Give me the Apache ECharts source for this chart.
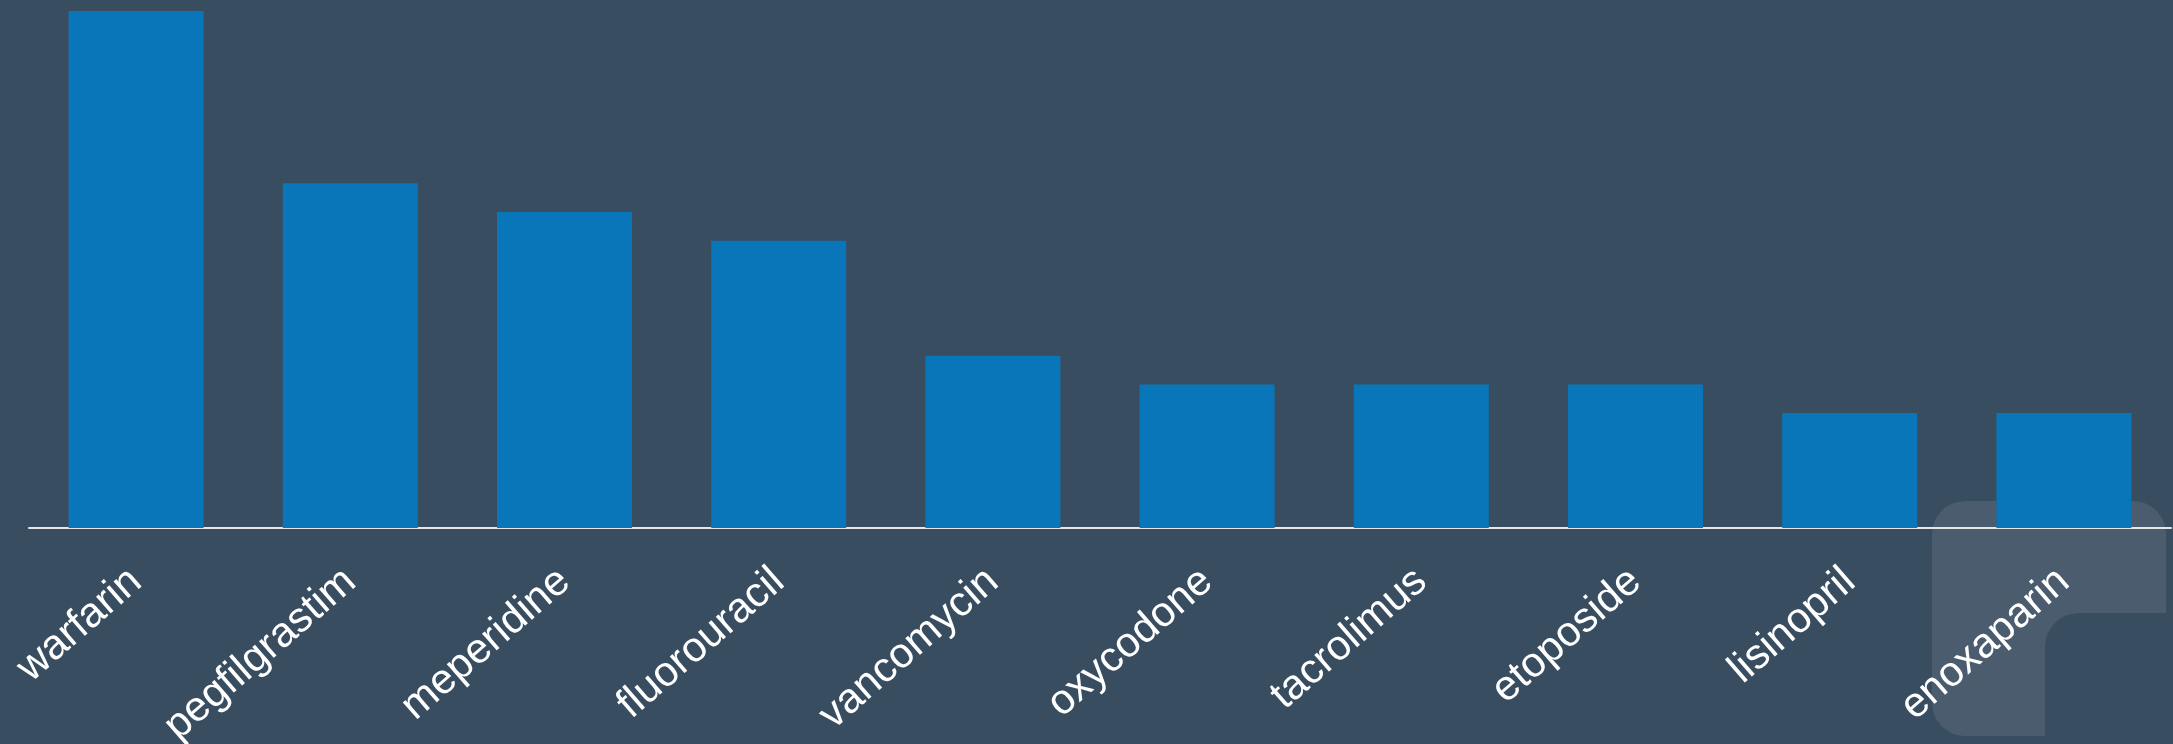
<!DOCTYPE html>
<html>
<head>
<meta charset="utf-8">
<script src="https://cdn.jsdelivr.net/npm/echarts@6/dist/echarts.min.js"></script>
<style>
  html, body { margin: 0; padding: 0; background: #394d61; }
  #chart { width: 2173px; height: 744px; }
</style>
</head>
<body>
<div id="chart"></div>
<script>
// drug names along the x axis
const drugs = [
  "warfarin", "pegfilgrastim", "meperidine", "fluorouracil", "vancomycin",
  "oxycodone", "tacrolimus", "etoposide", "lisinopril", "enoxaparin"
];
// counts
const counts = [18, 12, 11, 10, 6, 5, 5, 5, 4, 4];

const bg = "#394d61";
const markFill = "#4a5c6e";

const chart = echarts.init(document.getElementById("chart"));

const option = {
  backgroundColor: bg,
  animation: false,
  grid: {
    left: 29,
    right: 2,
    top: 11,
    bottom: 216,
    containLabel: false,
    outerBoundsMode: "none",
  },
  // faint logo mark in the corner, built from rects
  graphic: [
    {
      type: "group",
      silent: true,
      z: -10,
      children: [
        {
          type: "rect",
          z: -10,
          shape: { x: 1932, y: 501, width: 234, height: 112, r: [33, 33, 0, 0] },
          style: { fill: markFill },
        },
        {
          type: "rect",
          z: -10,
          shape: { x: 1932, y: 612, width: 113, height: 124, r: [0, 0, 0, 33] },
          style: { fill: markFill },
        },
        {
          type: "rect",
          z: -10,
          shape: { x: 2045, y: 612, width: 34, height: 35 },
          style: { fill: markFill },
        },
        {
          type: "circle",
          z: -9,
          shape: { cx: 2079, cy: 647, r: 34 },
          style: { fill: bg },
        },
      ],
    },
  ],
  xAxis: {
    type: "category",
    data: drugs,
    axisLine: { lineStyle: { color: "#e6e6e6", width: 2 } },
    axisTick: { show: false },
    axisLabel: {
      interval: 0,
      rotate: 41,
      margin: 48,
      color: "#ffffff",
      fontSize: 42,
      fontFamily: "Liberation Sans, Arial, sans-serif",
    },
  },
  yAxis: {
    type: "value",
    min: 0,
    max: 18,
    show: false,
    splitLine: { show: false },
  },
  series: [
    {
      type: "bar",
      data: counts,
      barWidth: "63%",
      itemStyle: { color: "#0a76ba" },
    },
  ],
};

chart.setOption(option);
</script>
</body>
</html>
